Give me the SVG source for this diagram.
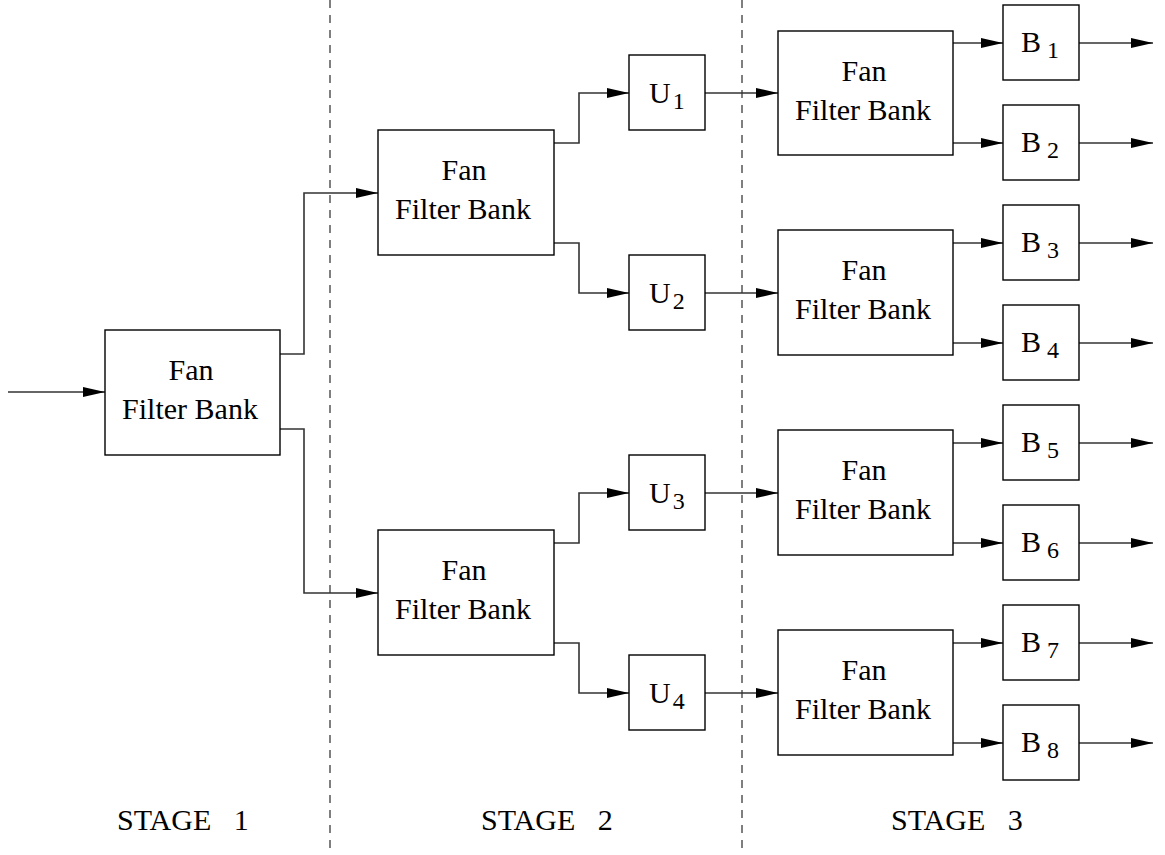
<svg xmlns="http://www.w3.org/2000/svg" width="1165" height="855" viewBox="0 0 1165 855">
<defs>
<marker id="ah" markerWidth="22" markerHeight="10" refX="22" refY="5" orient="auto" markerUnits="userSpaceOnUse">
<path d="M0,0 L22,5 L0,10 Z" fill="#000"/>
</marker>
<style>
.box{fill:#fff;stroke:#000;stroke-width:1.4}
.t{font-family:"Liberation Serif","Times New Roman",serif;font-size:30px;fill:#000}
.c{text-anchor:middle}
.sub{font-size:24px}
.ar{fill:none;stroke:#333;stroke-width:1.6;marker-end:url(#ah)}
.dash{stroke:#555;stroke-width:1.5;stroke-dasharray:8,7}
</style>
</defs>
<rect width="1165" height="855" fill="#fff"/>
<g id="dividers">
<line class="dash" x1="330" y1="0" x2="330" y2="855"/>
<line class="dash" x1="742" y1="0" x2="742" y2="855"/>
</g>
<g id="connectors">
<path class="ar" d="M8,392 H105"/>
<path class="ar" d="M280,354 H304 V193 H378"/>
<path class="ar" d="M280,429 H304 V593 H378"/>
<path class="ar" d="M554,143 H579 V93 H629"/>
<path class="ar" d="M554,243 H579 V293 H629"/>
<path class="ar" d="M554,543 H579 V493 H629"/>
<path class="ar" d="M554,643 H579 V693 H629"/>
<path class="ar" d="M705,93 H778"/>
<path class="ar" d="M705,293 H778"/>
<path class="ar" d="M705,493 H778"/>
<path class="ar" d="M705,693 H778"/>
<path class="ar" d="M953,43 H1003"/>
<path class="ar" d="M953,143 H1003"/>
<path class="ar" d="M953,243 H1003"/>
<path class="ar" d="M953,343 H1003"/>
<path class="ar" d="M953,443 H1003"/>
<path class="ar" d="M953,543 H1003"/>
<path class="ar" d="M953,643 H1003"/>
<path class="ar" d="M953,743 H1003"/>
<path class="ar" d="M1079,43 H1153"/>
<path class="ar" d="M1079,143 H1153"/>
<path class="ar" d="M1079,243 H1153"/>
<path class="ar" d="M1079,343 H1153"/>
<path class="ar" d="M1079,443 H1153"/>
<path class="ar" d="M1079,543 H1153"/>
<path class="ar" d="M1079,643 H1153"/>
<path class="ar" d="M1079,743 H1153"/>
</g>
<g id="ffb1"><rect class="box" x="105" y="330" width="175" height="125"/><text class="t c" x="191" y="380">Fan</text><text class="t c" x="190" y="419">Filter Bank</text></g>
<g id="ffb2a"><rect class="box" x="378" y="130" width="176" height="125"/><text class="t c" x="464" y="180">Fan</text><text class="t c" x="463" y="219">Filter Bank</text></g>
<g id="ffb2b"><rect class="box" x="378" y="530" width="176" height="125"/><text class="t c" x="464" y="580">Fan</text><text class="t c" x="463" y="619">Filter Bank</text></g>
<g id="u1"><rect class="box" x="629" y="55" width="76" height="75"/><text class="t" x="649" y="103">U<tspan class="sub" dx="2" dy="6">1</tspan></text></g>
<g id="u2"><rect class="box" x="629" y="255" width="76" height="75"/><text class="t" x="649" y="303">U<tspan class="sub" dx="2" dy="6">2</tspan></text></g>
<g id="u3"><rect class="box" x="629" y="455" width="76" height="75"/><text class="t" x="649" y="503">U<tspan class="sub" dx="2" dy="6">3</tspan></text></g>
<g id="u4"><rect class="box" x="629" y="655" width="76" height="75"/><text class="t" x="649" y="703">U<tspan class="sub" dx="2" dy="6">4</tspan></text></g>
<g id="ffb3a"><rect class="box" x="778" y="31" width="175" height="124"/><text class="t c" x="864" y="81">Fan</text><text class="t c" x="863" y="120">Filter Bank</text></g>
<g id="ffb3b"><rect class="box" x="778" y="230" width="175" height="125"/><text class="t c" x="864" y="280">Fan</text><text class="t c" x="863" y="319">Filter Bank</text></g>
<g id="ffb3c"><rect class="box" x="778" y="430" width="175" height="125"/><text class="t c" x="864" y="480">Fan</text><text class="t c" x="863" y="519">Filter Bank</text></g>
<g id="ffb3d"><rect class="box" x="778" y="630" width="175" height="125"/><text class="t c" x="864" y="680">Fan</text><text class="t c" x="863" y="719">Filter Bank</text></g>
<g id="b1"><rect class="box" x="1003" y="5" width="76" height="75"/><text class="t" x="1021" y="52">B<tspan class="sub" dx="6" dy="6">1</tspan></text></g>
<g id="b2"><rect class="box" x="1003" y="105" width="76" height="75"/><text class="t" x="1021" y="152">B<tspan class="sub" dx="6" dy="6">2</tspan></text></g>
<g id="b3"><rect class="box" x="1003" y="205" width="76" height="75"/><text class="t" x="1021" y="252">B<tspan class="sub" dx="6" dy="6">3</tspan></text></g>
<g id="b4"><rect class="box" x="1003" y="305" width="76" height="75"/><text class="t" x="1021" y="352">B<tspan class="sub" dx="6" dy="6">4</tspan></text></g>
<g id="b5"><rect class="box" x="1003" y="405" width="76" height="75"/><text class="t" x="1021" y="452">B<tspan class="sub" dx="6" dy="6">5</tspan></text></g>
<g id="b6"><rect class="box" x="1003" y="505" width="76" height="75"/><text class="t" x="1021" y="552">B<tspan class="sub" dx="6" dy="6">6</tspan></text></g>
<g id="b7"><rect class="box" x="1003" y="605" width="76" height="75"/><text class="t" x="1021" y="652">B<tspan class="sub" dx="6" dy="6">7</tspan></text></g>
<g id="b8"><rect class="box" x="1003" y="705" width="76" height="75"/><text class="t" x="1021" y="752">B<tspan class="sub" dx="6" dy="6">8</tspan></text></g>
<g id="labels">
<text class="t" x="117" y="830" xml:space="preserve">STAGE   1</text>
<text class="t" x="481" y="830" xml:space="preserve">STAGE   2</text>
<text class="t" x="891" y="830" xml:space="preserve">STAGE   3</text>
</g>
</svg>
